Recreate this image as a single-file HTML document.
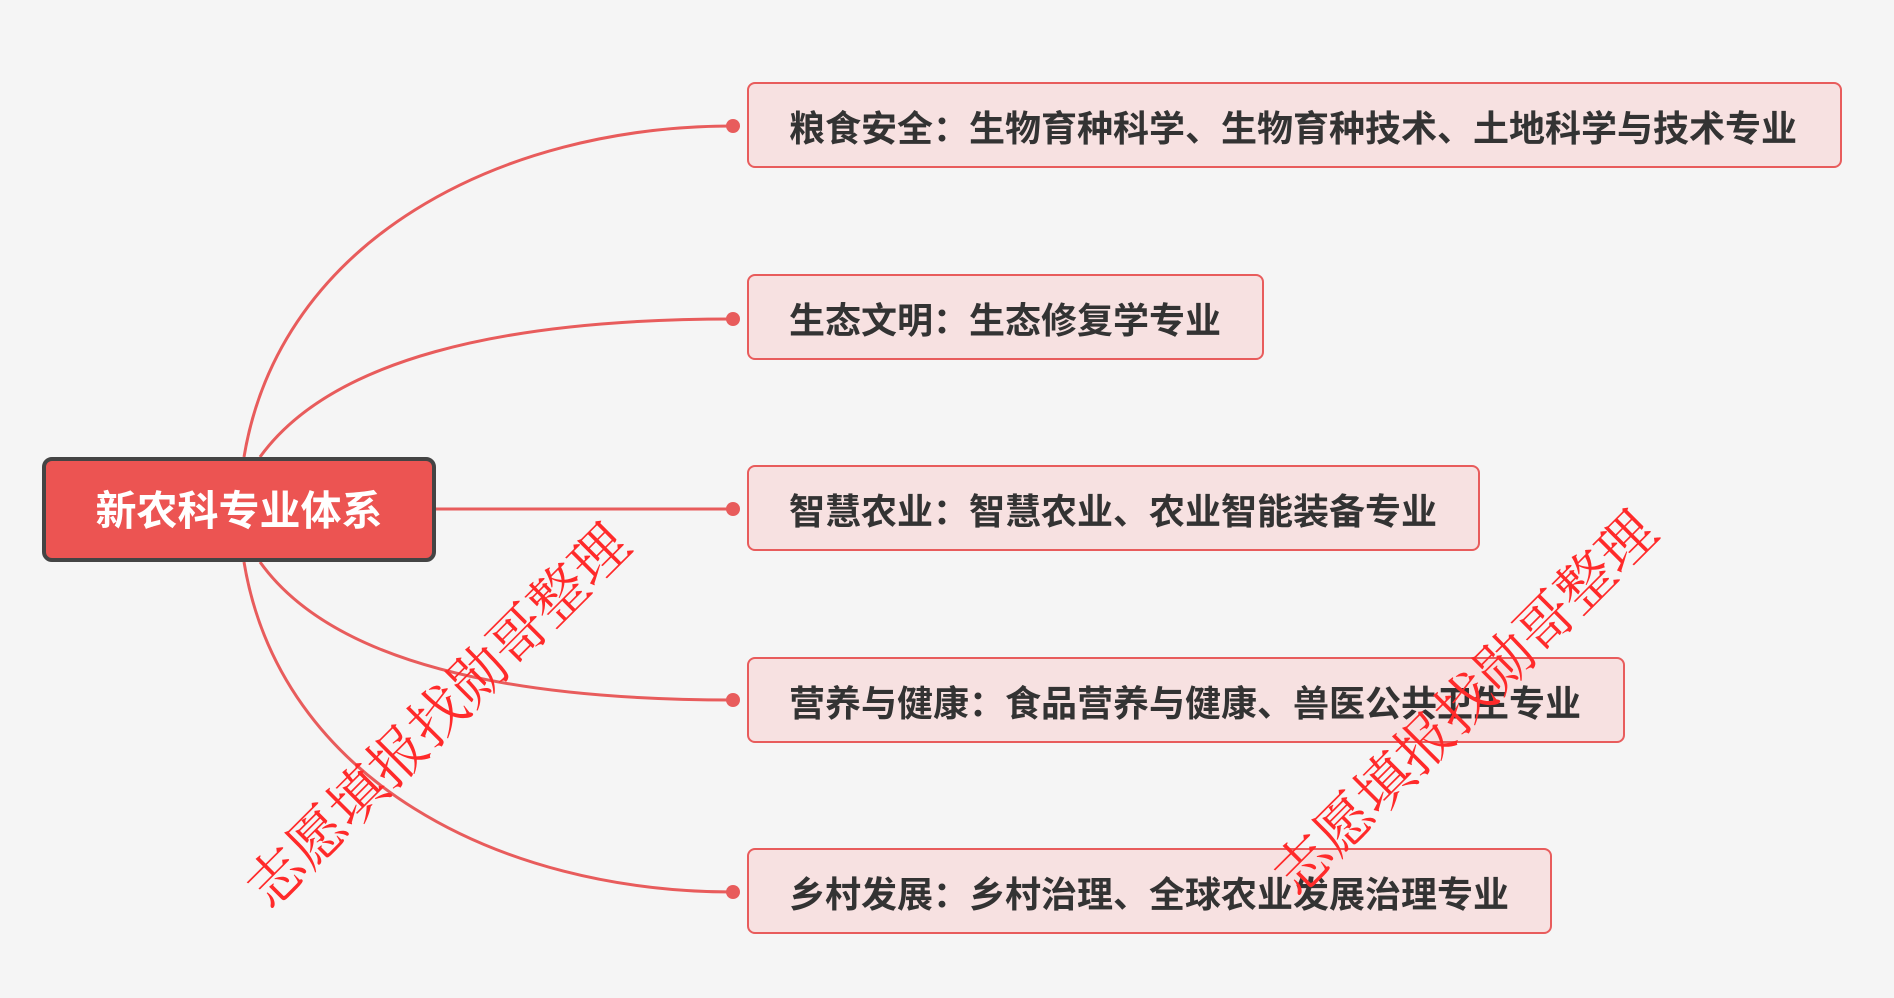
<!DOCTYPE html>
<html><head><meta charset="utf-8"><style>
body{margin:0;width:1894px;height:998px;background:#f5f5f5;position:relative;overflow:hidden;font-family:"Liberation Sans","Noto Sans CJK SC",sans-serif}
.box{position:absolute;left:747px;height:86px;background:#f7e1e1;border:2px solid #e85c5c;border-radius:8px;box-sizing:border-box;font-size:36px;font-weight:bold;color:#333;line-height:90px;padding-left:40px}
.root{position:absolute;left:42px;top:457px;width:394px;height:105px;background:#ec5452;border:4px solid #444;border-radius:10px;box-sizing:border-box;color:#fff;font-size:41px;font-weight:bold;text-align:center;line-height:100px}
.wm{position:absolute;color:#ff2a2a;font-size:57px;font-family:"Noto Serif CJK SC",serif;white-space:nowrap;transform:translate(-50%,-50%) rotate(-45deg)}
</style></head><body>
<svg width="1894" height="998" style="position:absolute;left:0;top:0">
<g fill="none" stroke="#e85c5c" stroke-width="3">
<path d="M244 457 C280 240 500 126 733 126"/>
<path d="M260 457 C330 360 500 319 733 319"/>
<path d="M436 509 L733 509"/>
<path d="M260 562 C330 660 500 700 733 700"/>
<path d="M244 562 C280 780 500 892 733 892"/>
</g>
<g fill="#e85c5c"><circle cx="733" cy="126" r="7"/><circle cx="733" cy="319" r="7"/><circle cx="733" cy="509" r="7"/><circle cx="733" cy="700" r="7"/><circle cx="733" cy="892" r="7"/></g>
</svg>
<div class="root">新农科专业体系</div>
<div class="box" style="top:82px;width:1095px">粮食安全：生物育种科学、生物育种技术、土地科学与技术专业</div>
<div class="box" style="top:274px;width:517px">生态文明：生态修复学专业</div>
<div class="box" style="top:465px;width:733px">智慧农业：智慧农业、农业智能装备专业</div>
<div class="box" style="top:657px;width:878px">营养与健康：食品营养与健康、兽医公共卫生专业</div>
<div class="box" style="top:848px;width:805px">乡村发展：乡村治理、全球农业发展治理专业</div>
<div class="wm" style="left:435px;top:713px">志愿填报找勋哥整理</div>
<div class="wm" style="left:1462px;top:700px">志愿填报找勋哥整理</div>
</body></html>
